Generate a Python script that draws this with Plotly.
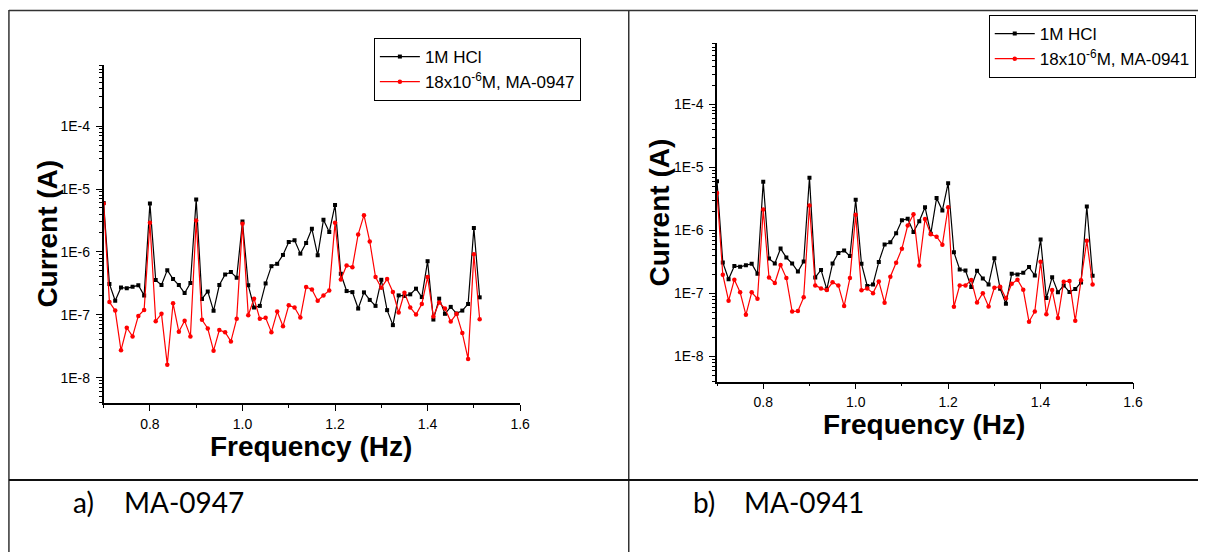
import plotly.graph_objects as go

W, H = 1208, 552

freq = [0.7000, 0.7125, 0.7250, 0.7375, 0.7500, 0.7625, 0.7750, 0.7875,
        0.8000, 0.8125, 0.8250, 0.8375, 0.8500, 0.8625, 0.8750, 0.8875,
        0.9000, 0.9125, 0.9250, 0.9375, 0.9500, 0.9625, 0.9750, 0.9875,
        1.0000, 1.0125, 1.0250, 1.0375, 1.0500, 1.0625, 1.0750, 1.0875,
        1.1000, 1.1125, 1.1250, 1.1375, 1.1500, 1.1625, 1.1750, 1.1875,
        1.2000, 1.2125, 1.2250, 1.2375, 1.2500, 1.2625, 1.2750, 1.2875,
        1.3000, 1.3125, 1.3250, 1.3375, 1.3500, 1.3625, 1.3750, 1.3875,
        1.4000, 1.4125, 1.4250, 1.4375, 1.4500, 1.4625, 1.4750, 1.4875,
        1.5000, 1.5125]

current_hcl = [6.0e-6, 3.1e-7, 1.68e-7, 2.73e-7, 2.64e-7, 2.8e-7, 2.95e-7, 2.04e-7,
               5.9e-6, 3.57e-7, 2.98e-7, 5.14e-7, 3.7e-7, 2.98e-7, 2.22e-7, 3.2e-7,
               6.8e-6, 1.79e-7, 2.36e-7, 1.16e-7, 2.98e-7, 4.39e-7, 4.78e-7, 3.9e-7,
               3.05e-6, 2.95e-7, 1.31e-7, 1.39e-7, 3.16e-7, 5.94e-7, 6.47e-7, 8.97e-7,
               1.44e-6, 1.53e-6, 9.4e-7, 1.39e-6, 2.33e-6, 8.85e-7, 3.24e-6, 2.07e-6,
               5.58e-6, 4.5e-7, 2.39e-7, 2.3e-7, 1.26e-7, 2.28e-7, 1.73e-7, 1.39e-7,
               3.61e-7, 1.19e-7, 6.87e-8, 2.04e-7, 2.0e-7, 2.12e-7, 2.61e-7, 1.92e-7,
               7.13e-7, 8.43e-8, 1.81e-7, 1.04e-7, 1.34e-7, 1.05e-7, 1.17e-7, 1.49e-7,
               2.39e-6, 1.9e-7]

current_ma0947 = [5.9e-6, 1.6e-7, 1.17e-7, 2.73e-8, 6.24e-8, 4.55e-8, 9.64e-8, 1.2e-7,
                  2.9e-6, 7.94e-8, 1.04e-7, 1.62e-8, 1.53e-7, 5.39e-8, 8.04e-8, 4.55e-8,
                  3.16e-6, 8.34e-8, 6.08e-8, 2.7e-8, 5.73e-8, 5.32e-8, 3.79e-8, 8.65e-8,
                  2.8e-6, 9.88e-8, 1.81e-7, 8.65e-8, 8.97e-8, 5.32e-8, 1.13e-7, 6.62e-8,
                  1.42e-7, 1.31e-7, 9.08e-8, 2.77e-7, 2.54e-7, 1.68e-7, 2.04e-7, 2.45e-7,
                  2.9e-6, 3.66e-7, 6.08e-7, 5.73e-7, 1.9e-6, 3.84e-6, 1.47e-6, 3.98e-7,
                  2.7e-7, 3.7e-7, 2.31e-7, 1.09e-7, 2.25e-7, 1.31e-7, 1.01e-7, 1.49e-7,
                  3.98e-7, 9.41e-8, 1.57e-7, 1.26e-7, 7.85e-8, 1.04e-7, 5.14e-8, 2.0e-8,
                  9.19e-7, 8.55e-8]

current_ma0941 = [3.92e-6, 1.98e-7, 7.65e-8, 1.65e-7, 1.04e-7, 4.58e-8, 1.04e-7, 8.22e-8,
                  2.13e-6, 1.79e-7, 1.46e-7, 2.82e-7, 1.75e-7, 5.18e-8, 5.25e-8, 8.65e-8,
                  2.47e-6, 1.34e-7, 1.2e-7, 1.13e-7, 1.5e-7, 1.34e-7, 6.3e-8, 1.75e-7,
                  1.77e-6, 1.12e-7, 1.2e-7, 1.01e-7, 1.55e-7, 7.11e-8, 1.84e-7, 3.07e-7,
                  5.12e-7, 1.19e-6, 1.8e-6, 2.78e-7, 1.51e-6, 8.64e-7, 7.94e-7, 5.92e-7,
                  2.32e-6, 6.14e-8, 1.34e-7, 1.34e-7, 1.63e-7, 7.2e-8, 1.01e-7, 6.22e-8,
                  1.23e-7, 1.28e-7, 8.34e-8, 1.42e-7, 1.65e-7, 1.14e-7, 3.55e-8, 5.18e-8,
                  3.18e-7, 4.65e-8, 1.13e-7, 4.06e-8, 1.53e-7, 1.57e-7, 3.68e-8, 1.61e-7,
                  6.86e-7, 1.39e-7]

x_tickvals = [0.8, 1.0, 1.2, 1.4, 1.6]
x_ticktext = ["0.8", "1.0", "1.2", "1.4", "1.6"]
y_tickvals = [1e-8, 1e-7, 1e-6, 1e-5, 1e-4]
y_ticktext = ["1E-8", "1E-7", "1E-6", "1E-5", "1E-4"]

name_hcl = "1M HCl"
name_a = "18x10<sup>-6</sup>M, MA-0947"
name_b = "18x10<sup>-6</sup>M, MA-0941"
caption_tags = ["a)", "b)"]
caption_names = ["MA-0947", "MA-0941"]

ARIAL = "Liberation Sans, Arial, sans-serif"
y_minor = [m * 10.0 ** e for e in range(-9, -3) for m in range(2, 10)]


def px_x(p):
    return p / W


def px_y(p):
    return 1 - p / H


fig = go.Figure()

black_style = dict(mode="lines+markers", line=dict(color="black", width=1.2),
                   marker=dict(symbol="square", size=4, color="black"))
red_style = dict(mode="lines+markers", line=dict(color="#ff0000", width=1.2),
                 marker=dict(symbol="circle", size=4.5, color="#ff0000"))

fig.add_trace(go.Scatter(x=freq, y=current_hcl, name=name_hcl, xaxis="x", yaxis="y",
                         legend="legend", **black_style))
fig.add_trace(go.Scatter(x=freq, y=current_ma0947, name=name_a, xaxis="x", yaxis="y",
                         legend="legend", **red_style))
fig.add_trace(go.Scatter(x=freq, y=current_hcl, name=name_hcl, xaxis="x2", yaxis="y2",
                         legend="legend2", **black_style))
fig.add_trace(go.Scatter(x=freq, y=current_ma0941, name=name_b, xaxis="x2", yaxis="y2",
                         legend="legend2", **red_style))

xax = dict(range=[0.7, 1.6], tickmode="array", tickvals=x_tickvals, ticktext=x_ticktext,
           ticks="outside", ticklen=6, tickwidth=1, tickcolor="black",
           minor=dict(tickmode="array", tickvals=[0.7, 0.9, 1.1, 1.3, 1.5], ticks="outside",
                      ticklen=3, tickwidth=1, tickcolor="black"),
           showline=True, linecolor="black", linewidth=1.5, showgrid=False, zeroline=False,
           tickfont=dict(family=ARIAL, size=14, color="black"), ticklabelstandoff=1)
yax = dict(type="log", range=[-8.4, -3.03], tickmode="array", tickvals=y_tickvals,
           ticktext=y_ticktext, ticks="outside", ticklen=6, tickwidth=1, tickcolor="black",
           minor=dict(tickmode="array", tickvals=y_minor, ticks="outside", ticklen=3,
                      tickwidth=1, tickcolor="black"),
           showline=True, linecolor="black", linewidth=1.5, showgrid=False, zeroline=False,
           tickfont=dict(family=ARIAL, size=14, color="black"), ticklabelstandoff=3)

fig.update_layout(
    width=W, height=H, margin=dict(l=0, r=0, t=0, b=0),
    paper_bgcolor="white", plot_bgcolor="white",
    xaxis=dict(domain=[px_x(104.5), px_x(524.5)], anchor="y", **xax),
    yaxis=dict(domain=[px_y(403), px_y(65)], anchor="x", **yax),
    xaxis2=dict(domain=[px_x(723), px_x(1142.5)], anchor="y2", **xax),
    yaxis2=dict(domain=[px_y(381.7), px_y(43)], anchor="x2", **yax),
    legend=dict(x=px_x(377), y=px_y(38), xanchor="left", yanchor="top",
                bordercolor="black", borderwidth=1, bgcolor="white",
                font=dict(family=ARIAL, size=17, color="black"),
                tracegroupgap=0, itemwidth=40),
    legend2=dict(x=px_x(997), y=px_y(15), xanchor="left", yanchor="top",
                 bordercolor="black", borderwidth=1, bgcolor="white",
                 font=dict(family=ARIAL, size=17, color="black"),
                 tracegroupgap=0, itemwidth=40),
    showlegend=True,
)

title_font = dict(family=ARIAL, size=28, color="black")
# axis titles
for (cx, cy) in [(314, 446), (932, 424)]:
    fig.add_annotation(text="<b>Frequency (Hz)</b>", xref="paper", yref="paper",
                       x=px_x(cx), y=px_y(cy), xanchor="center", yanchor="middle",
                       showarrow=False, font=title_font)
for (cx, cy) in [(47, 234), (664, 213)]:
    fig.add_annotation(text="<b>Current (A)</b>", xref="paper", yref="paper",
                       x=px_x(cx), y=px_y(cy), xanchor="center", yanchor="middle",
                       textangle=-90, showarrow=False, font=title_font)

# captions
cap_font = dict(family="Lato, Open Sans, sans-serif", size=28, color="black")
for tag, name, tx, nx in zip(caption_tags, caption_names, [72, 697], [123, 748]):
    fig.add_annotation(text=tag, xref="paper", yref="paper", x=px_x(tx), y=px_y(502),
                       xanchor="left", yanchor="middle", showarrow=False, font=cap_font)
    fig.add_annotation(text=name, xref="paper", yref="paper", x=px_x(nx), y=px_y(502),
                       xanchor="left", yanchor="middle", showarrow=False, font=cap_font)

# table borders
line_col = "#333333"
fig.add_shape(type="line", xref="paper", yref="paper", x0=px_x(9), x1=1, y0=px_y(10.5),
              y1=px_y(10.5), line=dict(color=line_col, width=1.5))
fig.add_shape(type="line", xref="paper", yref="paper", x0=px_x(9), x1=px_x(9), y0=px_y(10),
              y1=0, line=dict(color=line_col, width=1.5))
fig.add_shape(type="line", xref="paper", yref="paper", x0=px_x(634), x1=px_x(634),
              y0=px_y(10), y1=0, line=dict(color=line_col, width=1.5))
fig.add_shape(type="line", xref="paper", yref="paper", x0=px_x(9), x1=1, y0=px_y(480),
              y1=px_y(480), line=dict(color="#111111", width=2))

fig.write_html("out.html", config={"displayModeBar": False},
               post_script="document.body.style.margin='0px';")
